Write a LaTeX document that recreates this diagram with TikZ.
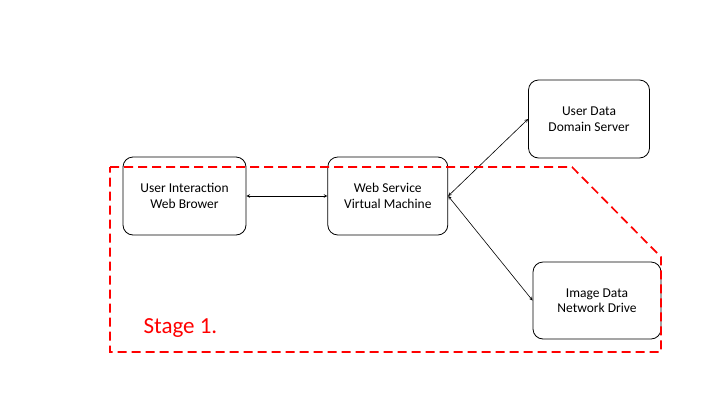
\documentclass[tikz,border=0pt]{standalone}
\usepackage{fontspec}
\setmainfont{Carlito}
\usetikzlibrary{positioning}
\usetikzlibrary{arrows}

\begin{document}
\begin{tikzpicture}[
      x=1pt, y=-1pt,
      box/.style ={rectangle, draw=black, line width=0.8pt, rounded corners=10pt,
                   minimum width=121pt, minimum height=78pt, align=center,
                   font=\fontsize{13.5}{15.5}\selectfont},
      link/.style ={stealth-stealth, line width=0.6pt},
      stage/.style={draw=red, line width=1.7pt, dash pattern=on 9pt off 5pt},
      node distance=81pt
    ]
    \useasboundingbox (0,0) rectangle (720,405);
    \node [box, minimum width=123pt] (browser) at (184.5,196) {User Interaction\\Web Brower} ;
    \node [box, minimum width=120pt] (vm) [right=of browser] {Web Service\\Virtual Machine} ;
    \node [box] (domain) at (589,119) {User Data\\Domain Server} ;
    \node [box, minimum width=128pt, minimum height=77pt] (drive) at (597,300.5) {Image Data\\Network Drive} ;
    \node [text=red, font=\fontsize{23}{25}\selectfont, anchor=west] (label) at (140,328) {Stage 1.} ;

    \draw [link] (browser) -- (vm) ;
    \draw [link] (vm.east) -- (domain.west) ;
    \draw [link] (vm.east) -- (drive.west) ;
    \draw [stage] (110,167) -- (572,167) -- (661,257) -- (661,352) -- (110,352) -- cycle ;
  \end{tikzpicture}
\end{document}
